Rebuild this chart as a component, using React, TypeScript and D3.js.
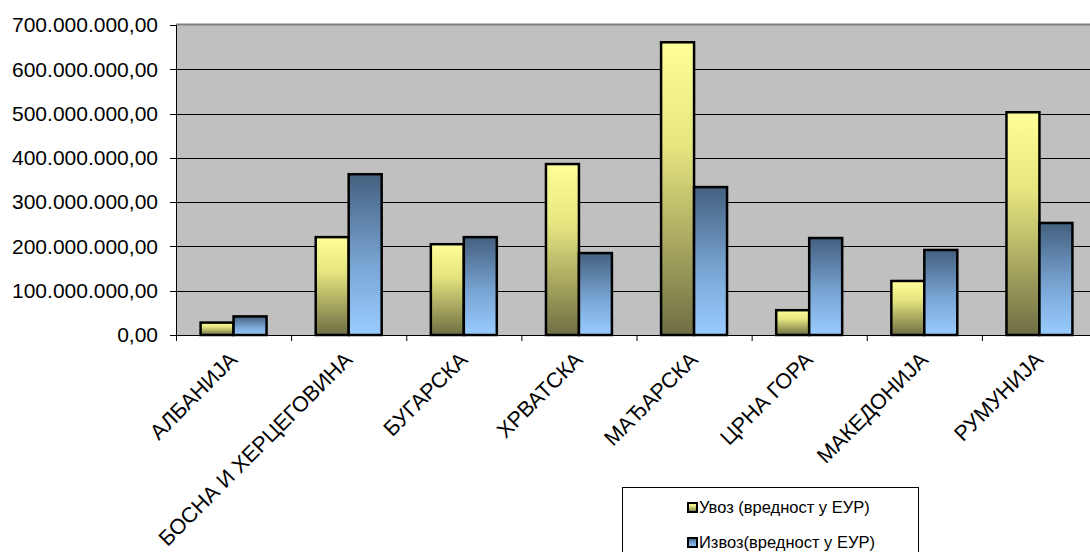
import React from "react";
import * as d3 from "d3";

const categories = [
  "АЛБАНИЈА",
  "БОСНА И ХЕРЦЕГОВИНА",
  "БУГАРСКА",
  "ХРВАТСКА",
  "МАЂАРСКА",
  "ЦРНА ГОРА",
  "МАКЕДОНИЈА",
  "РУМУНИЈА",
];
const importValues = [28e6, 221e6, 205e6, 386e6, 661e6, 56e6, 122e6, 503e6];
const exportValues = [42e6, 363e6, 221e6, 185e6, 334e6, 219e6, 192e6, 253e6];
const seriesNames = ["Увоз (вредност у ЕУР)", "Извоз(вредност у ЕУР)"];
const yTicks = [0, 100e6, 200e6, 300e6, 400e6, 500e6, 600e6, 700e6];

const W = 1090;
const H = 552;
const left = 176;
const right = 1097;
const top = 25;
const bottom = 335;

const locale = d3.formatLocale({
  decimal: ",",
  thousands: ".",
  grouping: [3],
  currency: ["", ""],
});
const fmt = locale.format(",.2f");

export default function App() {
  const x = d3
    .scaleBand<string>()
    .domain(categories)
    .range([left, right])
    .paddingInner(0.427)
    .paddingOuter(0.2135);
  const x1 = d3
    .scaleBand<string>()
    .domain(["imp", "exp"])
    .range([0, x.bandwidth()]);
  const y = d3.scaleLinear().domain([0, 700e6]).range([bottom, top]);
  const step = x.step();
  const font = "Arial, 'Liberation Sans', sans-serif";

  return (
    <svg
      width={W}
      height={H}
      style={{ position: "absolute", left: 0, top: 0, background: "#fff" }}
      fontFamily={font}
    >
      <defs>
        <linearGradient id="gImp" x1="0" y1="0" x2="0" y2="1">
          <stop offset="0" stopColor="#ffff99" />
          <stop offset="0.35" stopColor="#e6e680" />
          <stop offset="1" stopColor="#6e6e44" />
        </linearGradient>
        <linearGradient id="gExp" x1="0" y1="0" x2="0" y2="1">
          <stop offset="0" stopColor="#44607f" />
          <stop offset="0.55" stopColor="#78a4d2" />
          <stop offset="1" stopColor="#99ccff" />
        </linearGradient>
      </defs>
      <rect x={0} y={0} width={W} height={H} fill="#fff" />
      {/* plot area */}
      <rect x={left} y={top} width={right - left} height={bottom - top} fill="#c0c0c0" />
      <line x1={left} x2={right} y1={top - 0.5} y2={top - 0.5} stroke="#808080" strokeWidth={2} />
      {/* gridlines */}
      {yTicks.slice(1, -1).map((t) => (
        <line key={t} x1={left} x2={right} y1={Math.round(y(t)) + 0.5} y2={Math.round(y(t)) + 0.5} stroke="#000" strokeWidth={1} />
      ))}
      {/* bars */}
      {categories.map((c, i) => (
        <g key={c}>
          <rect
            x={(x(c) as number) + (x1("imp") as number)}
            y={y(importValues[i])}
            width={x1.bandwidth()}
            height={bottom - y(importValues[i])}
            fill="url(#gImp)"
            stroke="#000"
            strokeWidth={2.5}
          />
          <rect
            x={(x(c) as number) + (x1("exp") as number)}
            y={y(exportValues[i])}
            width={x1.bandwidth()}
            height={bottom - y(exportValues[i])}
            fill="url(#gExp)"
            stroke="#000"
            strokeWidth={2.5}
          />
        </g>
      ))}
      {/* axes */}
      <line x1={left + 0.5} x2={left + 0.5} y1={top} y2={bottom} stroke="#000" strokeWidth={1} />
      <line x1={left} x2={right} y1={bottom + 0.5} y2={bottom + 0.5} stroke="#000" strokeWidth={1} />
      {yTicks.map((t) => (
        <g key={t}>
          <line x1={left - 6} x2={left} y1={Math.round(y(t)) + 0.5} y2={Math.round(y(t)) + 0.5} stroke="#000" />
          <text x={158} y={y(t)} dy="0.35em" textAnchor="end" fontSize={21} fill="#000">
            {fmt(t)}
          </text>
        </g>
      ))}
      {categories.map((c, i) => (
        <line
          key={"t" + c}
          x1={left + i * step + 0.5}
          x2={left + i * step + 0.5}
          y1={bottom}
          y2={bottom + 6}
          stroke="#000"
        />
      ))}
      {categories.map((c) => {
        const cx = (x(c) as number) + x.bandwidth() / 2;
        return (
          <text
            key={"l" + c}
            transform={`translate(${cx + 5},${bottom + 26}) rotate(-45)`}
            textAnchor="end"
            fontSize={21.5}
            fill="#000"
          >
            {c}
          </text>
        );
      })}
      {/* legend */}
      <rect x={622.5} y={487.5} width={296} height={80} fill="#fff" stroke="#000" strokeWidth={1} />
      {seriesNames.map((s, i) => (
        <g key={s} transform={`translate(0,${i * 35})`}>
          <rect x={688} y={503} width={9} height={9} fill={i === 0 ? "url(#gImp)" : "url(#gExp)"} stroke="#000" strokeWidth={2} />
          <text x={699} y={513} fontSize={16.5} fill="#000">
            {s}
          </text>
        </g>
      ))}
    </svg>
  );
}
